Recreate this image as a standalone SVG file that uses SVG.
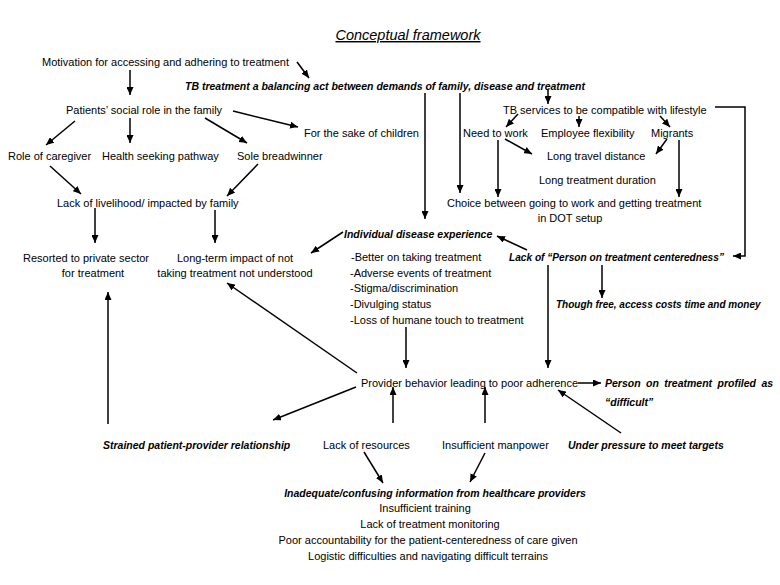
<svg xmlns="http://www.w3.org/2000/svg" width="780" height="585" viewBox="0 0 780 585">
<defs>
<marker id="ah" markerUnits="userSpaceOnUse" markerWidth="9" markerHeight="7" refX="8" refY="3.5" orient="auto">
<path d="M0,0 L8,3.5 L0,7 z" fill="#000"/>
</marker>
<style>
text{font-family:"Liberation Sans",Arial,sans-serif;font-size:11px;fill:#000}
.bi{font-weight:bold;font-style:italic;font-size:10.5px}
.m{text-anchor:middle}
.c{fill:none;stroke:#000;stroke-width:1.5;marker-end:url(#ah)}
</style>
</defs>
<rect width="780" height="585" fill="#fff"/>
<g id="title"><text x="408" y="40" class="m" style="font-style:italic;font-size:14.5px;text-decoration:underline">Conceptual framework</text></g>
<g id="connectors">
<path class="c" d="M297,62 L309,78"/>
<path class="c" d="M130,70 L130,95"/>
<path class="c" d="M75,121 L46,145"/>
<path class="c" d="M130,118 L130,143"/>
<path class="c" d="M205,118 L247,143"/>
<path class="c" d="M233,111 L298,127"/>
<path class="c" d="M50,166 L81,194"/>
<path class="c" d="M258,164 L227,196"/>
<path class="c" d="M95,208 L95,243"/>
<path class="c" d="M215,210 L215,243"/>
<path class="c" d="M343,232 L311,253"/>
<path class="c" d="M527,250 L497,236"/>
<path class="c" d="M406,327 L406,368"/>
<path class="c" d="M425,93 L425,219"/>
<path class="c" d="M460,93 L460,193"/>
<path class="c" d="M548,90 L548,104"/>
<path class="c" d="M518,114 L506,127"/>
<path class="c" d="M579,116 L579,127"/>
<path class="c" d="M660,116 L670,127"/>
<path class="c" d="M505,139 L532,154"/>
<path class="c" d="M667,139 L656,154"/>
<path class="c" d="M498,140 L498,197"/>
<path class="c" d="M679,140 L679,197"/>
<path class="c" d="M715,107 L745,107 L745,256 L733,256"/>
<path class="c" d="M602,265 L602,298"/>
<path class="c" d="M548,265 L548,368"/>
<path class="c" d="M578,383 L601,383"/>
<path class="c" d="M621,433 L558,390"/>
<path class="c" d="M485,423 L485,387"/>
<path class="c" d="M393,423 L393,387"/>
<path class="c" d="M356,387 L273,420"/>
<path class="c" d="M357,373 L227,283"/>
<path class="c" d="M108,424 L108,292"/>
<path class="c" d="M364,452 L383,483"/>
<path class="c" d="M485,453 L470,482"/>
</g>
<g id="motivation"><text x="42" y="66">Motivation for accessing and adhering to treatment</text></g>
<g id="tb-balancing"><text x="185" y="90" class="bi">TB treatment a balancing act between demands of family, disease and treatment</text></g>
<g id="social-role"><text x="66" y="114">Patients’ social role in the family</text></g>
<g id="sake-children"><text x="304" y="137">For the sake of children</text></g>
<g id="caregiver"><text x="8" y="160">Role of caregiver</text></g>
<g id="health-seeking"><text x="102" y="160">Health seeking pathway</text></g>
<g id="breadwinner"><text x="237" y="160">Sole breadwinner</text></g>
<g id="livelihood"><text x="57" y="207">Lack of livelihood/ impacted by family</text></g>
<g id="private-sector"><text x="86" y="262" class="m">Resorted to private sector</text><text x="93" y="277" class="m">for treatment</text></g>
<g id="long-term"><text x="235" y="262" class="m">Long-term impact of not</text><text x="235" y="277" class="m">taking treatment not understood</text></g>
<g id="individual"><text x="344" y="238" class="bi">Individual disease experience</text>
<text x="351" y="261">-Better on taking treatment</text>
<text x="350" y="277">-Adverse events of treatment</text>
<text x="350" y="292">-Stigma/discrimination</text>
<text x="350" y="308">-Divulging status</text>
<text x="350" y="324">-Loss of humane touch to treatment</text></g>
<g id="tb-services"><text x="503" y="114">TB services to be compatible with lifestyle</text></g>
<g id="need-work"><text x="463" y="137">Need to work</text></g>
<g id="employee"><text x="541" y="137">Employee flexibility</text></g>
<g id="migrants"><text x="651" y="137">Migrants</text></g>
<g id="travel"><text x="547" y="160">Long travel distance</text></g>
<g id="duration"><text x="539" y="184">Long treatment duration</text></g>
<g id="choice"><text x="447" y="207">Choice between going to work and getting treatment</text><text x="570" y="222" class="m">in DOT setup</text></g>
<g id="lack-person"><text x="509" y="261" class="bi" style="font-size:10.15px">Lack of “Person on treatment centeredness”</text></g>
<g id="though-free"><text x="556" y="308" class="bi" style="font-size:10px">Though free, access costs time and money</text></g>
<g id="provider"><text x="361" y="387">Provider behavior leading to poor adherence</text></g>
<g id="profiled"><text x="605" y="387" class="bi" word-spacing="2.5">Person on treatment profiled as</text><text x="605" y="406" class="bi">“difficult”</text></g>
<g id="strained"><text x="103" y="449" class="bi">Strained patient-provider relationship</text></g>
<g id="resources"><text x="323" y="449">Lack of resources</text></g>
<g id="manpower"><text x="442" y="449">Insufficient manpower</text></g>
<g id="pressure"><text x="568" y="449" class="bi">Under pressure to meet targets</text></g>
<g id="inadequate"><text x="435" y="497" class="bi m">Inadequate/confusing information from healthcare providers</text>
<text x="425" y="512" class="m">Insufficient training</text>
<text x="430" y="528" class="m">Lack of treatment monitoring</text>
<text x="428" y="544" class="m">Poor accountability for the patient-centeredness of care given</text>
<text x="428" y="560" class="m">Logistic difficulties and navigating difficult terrains</text></g>
</svg>
